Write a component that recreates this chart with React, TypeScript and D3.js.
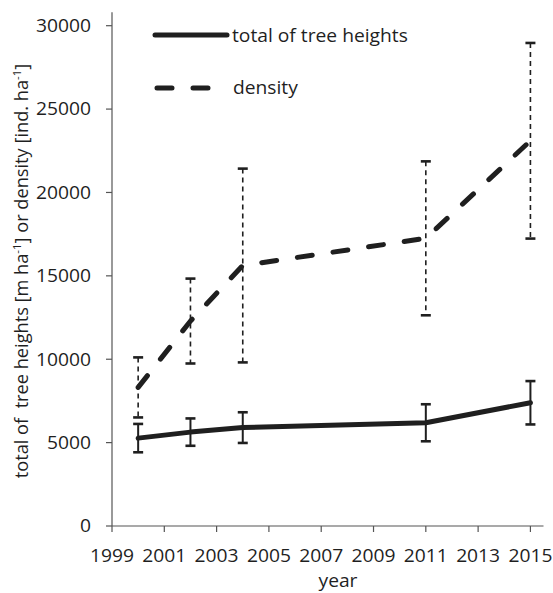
import React from "react";
import * as d3 from "d3";

// Survey years and plot-level means with their error half-widths
const years = [2000, 2002, 2004, 2011, 2015];
const heightMeans = [5270, 5630, 5900, 6190, 7390];
const heightErrors = [850, 820, 920, 1110, 1300];
const densityMeans = [8310, 12290, 15620, 17250, 23100];
const densityErrors = [1800, 2545, 5810, 4615, 5865];

const xTicks = [1999, 2001, 2003, 2005, 2007, 2009, 2011, 2013, 2015];
const yTicks = [0, 5000, 10000, 15000, 20000, 25000, 30000];

const W = 553;
const H = 593;
const FONT = "'Open Sans', Lato, sans-serif";
const INK = "#1f1f1f";
const AXIS = "#555";
const FS = 17.5;
const SX = 1.1; // slightly wide letterforms

export default function App() {
  const x = d3.scaleLinear().domain([1999, 2015.5]).range([112, 543.5]);
  const y = d3.scaleLinear().domain([0, 30000]).range([526, 25.7]);
  const yTop = y(30800);

  const heightPts = years.map((yr, i) => ({ yr, v: heightMeans[i], e: heightErrors[i] }));
  const densityPts = years.map((yr, i) => ({ yr, v: densityMeans[i], e: densityErrors[i] }));

  const line = d3
    .line<{ yr: number; v: number }>()
    .x((d) => x(d.yr))
    .y((d) => y(d.v));

  const capHalf = 5;

  const errorBars = (pts: { yr: number; v: number; e: number }[], dashed: boolean) =>
    pts.map((d, i) => {
      const cx = x(d.yr);
      const y0 = y(d.v + d.e);
      const y1 = y(d.v - d.e);
      return (
        <g key={i}>
          <line
            x1={cx}
            x2={cx}
            y1={y0}
            y2={y1}
            stroke={INK}
            strokeWidth={dashed ? 1.6 : 2}
            strokeDasharray={dashed ? "5 4" : undefined}
          />
          <line x1={cx - capHalf} x2={cx + capHalf} y1={y0} y2={y0} stroke={INK} strokeWidth={2.6} />
          <line x1={cx - capHalf} x2={cx + capHalf} y1={y1} y2={y1} stroke={INK} strokeWidth={2.6} />
        </g>
      );
    });

  const at = (tx: number, ty: number) => `translate(${tx},${ty}) scale(${SX},1)`;

  return (
    <svg
      width={W}
      height={H}
      style={{ position: "absolute", left: 0, top: 0, background: "#fff" }}
      fontFamily={FONT}
    >
      <rect width={W} height={H} fill="#fff" />

      {/* axes */}
      <line x1={x(1999)} x2={x(1999)} y1={yTop} y2={y(0)} stroke={AXIS} strokeWidth={1.2} />
      <line x1={x(1999)} x2={x(2015.5)} y1={y(0)} y2={y(0)} stroke={AXIS} strokeWidth={1.2} />

      {yTicks.map((t) => (
        <g key={t}>
          <line x1={x(1999) - 6} x2={x(1999)} y1={y(t)} y2={y(t)} stroke={AXIS} strokeWidth={1.2} />
          <text transform={at(91, y(t))} dy="0.36em" textAnchor="end" fontSize={FS} fill={INK}>
            {t}
          </text>
        </g>
      ))}

      {xTicks.map((t) => (
        <g key={t}>
          <line x1={x(t)} x2={x(t)} y1={y(0)} y2={y(0) + 6} stroke={AXIS} strokeWidth={1.2} />
          <text transform={at(x(t), 561.5)} textAnchor="middle" fontSize={FS} fill={INK}>
            {t}
          </text>
        </g>
      ))}

      <text transform={at(338, 587)} textAnchor="middle" fontSize={FS} fill={INK}>
        year
      </text>

      <text
        transform={`translate(28, 271) rotate(-90) scale(1.04,1)`}
        textAnchor="middle"
        fontSize={FS}
        fill={INK}
        style={{ whiteSpace: "pre" }}
      >
        <tspan>{"total of  tree heights [m ha"}</tspan>
        <tspan fontSize={11} dy={-7}>-1</tspan>
        <tspan dy={7}>] or density [ind. ha</tspan>
        <tspan fontSize={11} dy={-7}>-1</tspan>
        <tspan dy={7}>]</tspan>
      </text>

      {/* error bars */}
      {errorBars(densityPts, true)}
      {errorBars(heightPts, false)}

      {/* series lines */}
      <path
        d={line(densityPts) ?? ""}
        fill="none"
        stroke={INK}
        strokeWidth={5}
        strokeLinecap="round"
        strokeDasharray="15 21"
      />
      <path
        d={line(heightPts) ?? ""}
        fill="none"
        stroke={INK}
        strokeWidth={5}
        strokeLinecap="round"
        strokeLinejoin="round"
      />

      {/* legend */}
      <line x1={155} x2={227} y1={35} y2={35} stroke={INK} strokeWidth={5} strokeLinecap="round" />
      <text transform={at(232, 41.5)} fontSize={FS} fill={INK}>
        total of tree heights
      </text>
      <line
        x1={157}
        x2={212}
        y1={88}
        y2={88}
        stroke={INK}
        strokeWidth={5}
        strokeLinecap="round"
        strokeDasharray="15 21"
      />
      <text transform={at(233, 93.5)} fontSize={FS} fill={INK}>
        density
      </text>
    </svg>
  );
}
